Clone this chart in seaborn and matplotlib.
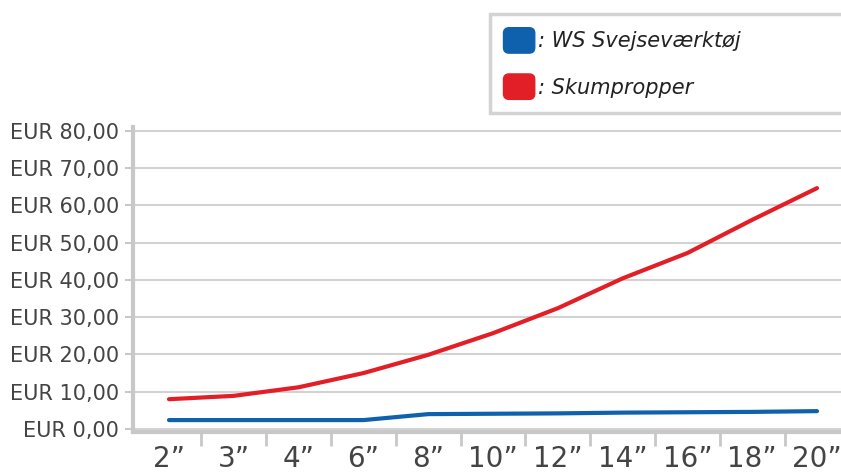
import numpy as np
import pandas as pd
import matplotlib
matplotlib.use('Agg')
import matplotlib.pyplot as plt
from matplotlib.patches import Patch, FancyBboxPatch
from matplotlib.legend_handler import HandlerPatch
import seaborn as sns

# sizes (inches) and prices per series
sizes = ['2”', '3”', '4”', '6”', '8”', '10”', '12”', '14”', '16”', '18”', '20”']
ws_svejse = [2.4, 2.4, 2.4, 2.4, 4.0, 4.1, 4.2, 4.4, 4.5, 4.6, 4.8]
skumpropper = [8.0, 8.9, 11.2, 15.0, 19.9, 25.7, 32.4, 40.4, 47.2, 56.1, 64.6]
series_names = ['WS Svejseværktøj', 'Skumpropper']
series_colors = ['#1061ad', '#e21f26']
y_ticks = [0, 10, 20, 30, 40, 50, 60, 70, 80]

df = pd.DataFrame({
    'size': sizes * 2,
    'price': ws_svejse + skumpropper,
    'series': [series_names[0]] * len(sizes) + [series_names[1]] * len(sizes),
})

sns.set_theme(style='white')
plt.rcParams['font.family'] = ['DejaVu Sans']

fig = plt.figure(figsize=(8.41, 4.72), dpi=100)
ax = fig.add_axes([0.1581, 0.0847, 0.8419, 0.6463])

sns.lineplot(data=df, x='size', y='price', hue='series', hue_order=series_names,
             palette=series_colors, sort=False, linewidth=3, ax=ax, legend=False,
             solid_capstyle='round')

grey = '#c8c8c8'
ax.set_xlim(-0.556, 10.37)
ax.set_ylim(-0.8, 81)
ax.set_yticks(y_ticks)
ax.set_yticklabels(['EUR %d,00' % v for v in y_ticks], fontsize=15, color='#444444')
ax.yaxis.grid(True, color='#d2d2d2', linewidth=1.5)
ax.set_axisbelow(True)

ax.set_xticks(range(len(sizes)))
ax.set_xticklabels(sizes, fontsize=20, color='#444444')
ax.set_xticks(np.arange(0.5, len(sizes) - 1, 1), minor=True)
ax.tick_params(axis='x', which='major', length=0, pad=9)
ax.tick_params(axis='x', which='minor', bottom=True, length=10, width=2, color=grey, direction='out')
ax.tick_params(axis='y', length=6, width=1.5, color=grey, direction='out', left=True, pad=4)
ax.set_xlabel('')
ax.set_ylabel('')

for side in ['top', 'right']:
    ax.spines[side].set_visible(False)
for side in ['left', 'bottom']:
    ax.spines[side].set_color(grey)
    ax.spines[side].set_linewidth(3)


def rounded_box(legend, orig_handle, xdescent, ydescent, width, height, fontsize):
    return FancyBboxPatch((-xdescent + 2, -ydescent + 2), width - 4, height - 4,
                          boxstyle='round,pad=2,rounding_size=4')


handles = [Patch(facecolor=c, edgecolor=c) for c in series_colors]
leg = fig.legend(handles, [': ' + s for s in series_names],
                 loc='upper left', bbox_to_anchor=(0.5826, 0.758, 0.45, 0.212),
                 mode='expand', frameon=True, fancybox=False,
                 prop={'style': 'italic', 'size': 15},
                 handlelength=1.5, handleheight=1.5, handletextpad=0.15,
                 labelspacing=1.0, borderpad=0.65, borderaxespad=0,
                 handler_map={Patch: HandlerPatch(patch_func=rounded_box)})
leg.get_frame().set_edgecolor(grey)
leg.get_frame().set_linewidth(2.5)
for t in leg.get_texts():
    t.set_color('#222222')

fig.savefig('out.png', dpi=100)
